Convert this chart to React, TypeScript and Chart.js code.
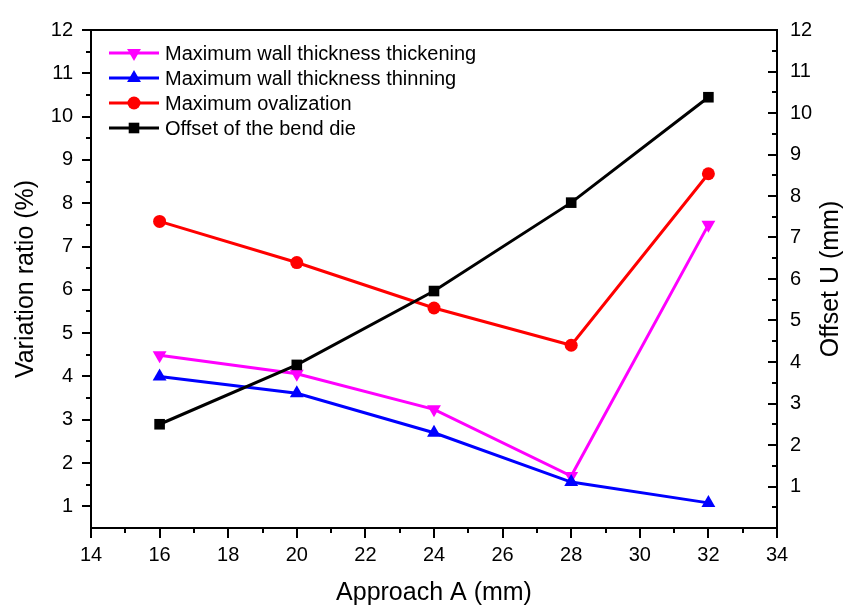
import React, { useEffect, useRef } from "react";
import { Chart, registerables } from "chart.js";

Chart.register(...registerables);

// ---- data ----
const approach = [16, 20, 24, 28, 32];
const thickening = [4.49, 4.06, 3.24, 1.7, 7.5];
const thinning = [4.0, 3.61, 2.7, 1.56, 1.08];
const ovalization = [7.58, 6.63, 5.58, 4.72, 8.68];
const offsetU = [2.5, 3.93, 5.71, 7.84, 10.38];

const seriesLabels = [
  "Maximum wall thickness thickening",
  "Maximum wall thickness thinning",
  "Maximum ovalization",
  "Offset of the bend die",
];

const leftTickValues = [1, 2, 3, 4, 5, 6, 7, 8, 9, 10, 11, 12];
const rightTickValues = [1, 2, 3, 4, 5, 6, 7, 8, 9, 10, 11, 12];

const xTitle = "Approach A (mm)";
const yLeftTitle = "Variation ratio (%)";
const yRightTitle = "Offset U (mm)";

const X_MIN = 14, X_MAX = 34, X_STEP = 2;
const YL_MIN = 0.5, YL_MAX = 12;
const YR_MIN = 0, YR_MAX = 12;

const FONT = "'Liberation Sans', Arial, Helvetica, sans-serif";

function toPoints(vals: number[]) {
  return approach.map((x, i) => ({ x, y: vals[i] }));
}

function drawMarker(ctx: CanvasRenderingContext2D, style: string, x: number, y: number, r: number, rot: number, color: string) {
  ctx.save();
  ctx.fillStyle = color;
  ctx.beginPath();
  if (style === "circle") {
    ctx.arc(x, y, r, 0, Math.PI * 2);
  } else if (style === "rect") {
    const s = r * Math.SQRT1_2;
    ctx.rect(x - s, y - s, 2 * s, 2 * s);
  } else {
    let rad = (rot * Math.PI) / 180;
    for (let k = 0; k < 3; k++) {
      const px = x + Math.sin(rad) * r;
      const py = y - Math.cos(rad) * r;
      if (k === 0) ctx.moveTo(px, py);
      else ctx.lineTo(px, py);
      rad += (2 * Math.PI) / 3;
    }
    ctx.closePath();
  }
  ctx.fill();
  ctx.restore();
}

const framePlugin = {
  id: "frame",
  beforeDatasetsDraw(chart: any) {
    const { ctx, chartArea, scales } = chart;
    const { left, right, top, bottom } = chartArea;
    ctx.save();
    ctx.strokeStyle = "#000";
    ctx.lineWidth = 2;
    ctx.beginPath();
    ctx.rect(left, top, right - left, bottom - top);
    ctx.stroke();
    ctx.beginPath();
    // left axis ticks (outward)
    for (let v = 1; v <= YL_MAX + 1e-9; v += 0.5) {
      const py = Math.round(scales.y.getPixelForValue(v));
      const len = Math.abs(v % 1) < 1e-6 ? 9 : 5;
      ctx.moveTo(left, py);
      ctx.lineTo(left - len, py);
    }
    // right axis ticks (inward)
    for (let v = 0.5; v <= YR_MAX + 1e-9; v += 0.5) {
      const py = Math.round(scales.y1.getPixelForValue(v));
      const len = Math.abs(v % 1) < 1e-6 ? 9 : 5;
      ctx.moveTo(right, py);
      ctx.lineTo(right - len, py);
    }
    // bottom axis ticks (outward)
    for (let v = X_MIN; v <= X_MAX + 1e-9; v += 1) {
      const px = Math.round(scales.x.getPixelForValue(v));
      const len = v % 2 === 0 ? 10 : 5;
      ctx.moveTo(px, bottom);
      ctx.lineTo(px, bottom + len);
    }
    ctx.stroke();
    ctx.restore();
  },
  afterDraw(chart: any) {
    const { ctx, chartArea } = chart;
    ctx.save();
    // right axis title (reads bottom to top)
    ctx.fillStyle = "#000";
    ctx.font = `25px ${FONT}`;
    ctx.textAlign = "center";
    ctx.textBaseline = "middle";
    ctx.translate(831, (chartArea.top + chartArea.bottom) / 2);
    ctx.rotate(-Math.PI / 2);
    ctx.fillText(yRightTitle, 0, 0);
    ctx.restore();

    // legend inside plot
    const rows = [53, 78, 103, 128];
    ctx.save();
    chart.data.datasets.forEach((ds: any, i: number) => {
      const y = rows[i];
      ctx.strokeStyle = ds.borderColor;
      ctx.lineWidth = 3;
      ctx.beginPath();
      ctx.moveTo(109, y);
      ctx.lineTo(159, y);
      ctx.stroke();
      drawMarker(ctx, ds.pointStyle, 134, y, ds.pointRadius, ds.pointRotation || 0, ds.borderColor);
      ctx.fillStyle = "#000";
      ctx.font = `20px ${FONT}`;
      ctx.textAlign = "left";
      ctx.textBaseline = "middle";
      ctx.fillText(ds.label, 165, y + 1);
    });
    ctx.restore();
  },
};

export default function App() {
  const ref = useRef<HTMLCanvasElement | null>(null);

  useEffect(() => {
    document.body.style.margin = "0";
    if (!ref.current) return;
    Chart.defaults.font.family = FONT;
    Chart.defaults.color = "#000";
    const chart = new Chart(ref.current, {
      type: "line",
      data: {
        datasets: [
          {
            label: seriesLabels[0],
            data: toPoints(thickening),
            yAxisID: "y",
            borderColor: "#ff00ff",
            backgroundColor: "#ff00ff",
            borderWidth: 3,
            pointStyle: "triangle",
            pointRotation: 180,
            pointRadius: 8,
            pointBorderWidth: 0,
            order: 3,
          } as any,
          {
            label: seriesLabels[1],
            data: toPoints(thinning),
            yAxisID: "y",
            borderColor: "#0000ff",
            backgroundColor: "#0000ff",
            borderWidth: 3,
            pointStyle: "triangle",
            pointRadius: 8,
            pointBorderWidth: 0,
            order: 2,
          },
          {
            label: seriesLabels[2],
            data: toPoints(ovalization),
            yAxisID: "y",
            borderColor: "#ff0000",
            backgroundColor: "#ff0000",
            borderWidth: 3,
            pointStyle: "circle",
            pointRadius: 6.5,
            pointBorderWidth: 0,
            order: 1,
          },
          {
            label: seriesLabels[3],
            data: toPoints(offsetU),
            yAxisID: "y1",
            borderColor: "#000000",
            backgroundColor: "#000000",
            borderWidth: 3,
            pointStyle: "rect",
            pointRadius: 7.5,
            pointBorderWidth: 0,
            order: 0,
          },
        ],
      },
      options: {
        responsive: false,
        animation: false,
        events: [],
        layout: { padding: { top: 22, left: 0, right: 0, bottom: 0 } },
        plugins: { legend: { display: false }, tooltip: { enabled: false } },
        elements: { line: { tension: 0 } },
        scales: {
          x: {
            type: "linear",
            position: "bottom",
            min: X_MIN,
            max: X_MAX,
            grid: { display: false, drawTicks: false },
            border: { display: false },
            ticks: { stepSize: X_STEP, padding: 15, font: { size: 20 }, color: "#000" },
            title: { display: true, text: xTitle, font: { size: 25 }, color: "#000", padding: 0 },
            afterFit: (s: any) => { s.height = 80; },
          },
          y: {
            type: "linear",
            position: "left",
            min: YL_MIN,
            max: YL_MAX,
            grid: { display: false, drawTicks: false },
            border: { display: false },
            ticks: {
              padding: 18,
              font: { size: 20 },
              color: "#000",
              autoSkip: false,
            },
            afterBuildTicks: (s: any) => { s.ticks = leftTickValues.map((v) => ({ value: v })); },
            title: { display: true, text: yLeftTitle, font: { size: 25 }, color: "#000", padding: { top: 11, bottom: 0 } },
            afterFit: (s: any) => { s.width = 91; },
          },
          y1: {
            type: "linear",
            position: "right",
            min: YR_MIN,
            max: YR_MAX,
            grid: { display: false, drawTicks: false },
            border: { display: false },
            ticks: {
              padding: 13,
              font: { size: 20 },
              color: "#000",
              autoSkip: false,
            },
            afterBuildTicks: (s: any) => { s.ticks = rightTickValues.map((v) => ({ value: v })); },
            afterFit: (s: any) => { s.width = 79; },
          },
        },
      } as any,
      plugins: [framePlugin],
    });
    return () => chart.destroy();
  }, []);

  return (
    <div style={{ width: 856, height: 608, background: "#fff" }}>
      <canvas ref={ref} width={856} height={608} style={{ display: "block" }} />
    </div>
  );
}
